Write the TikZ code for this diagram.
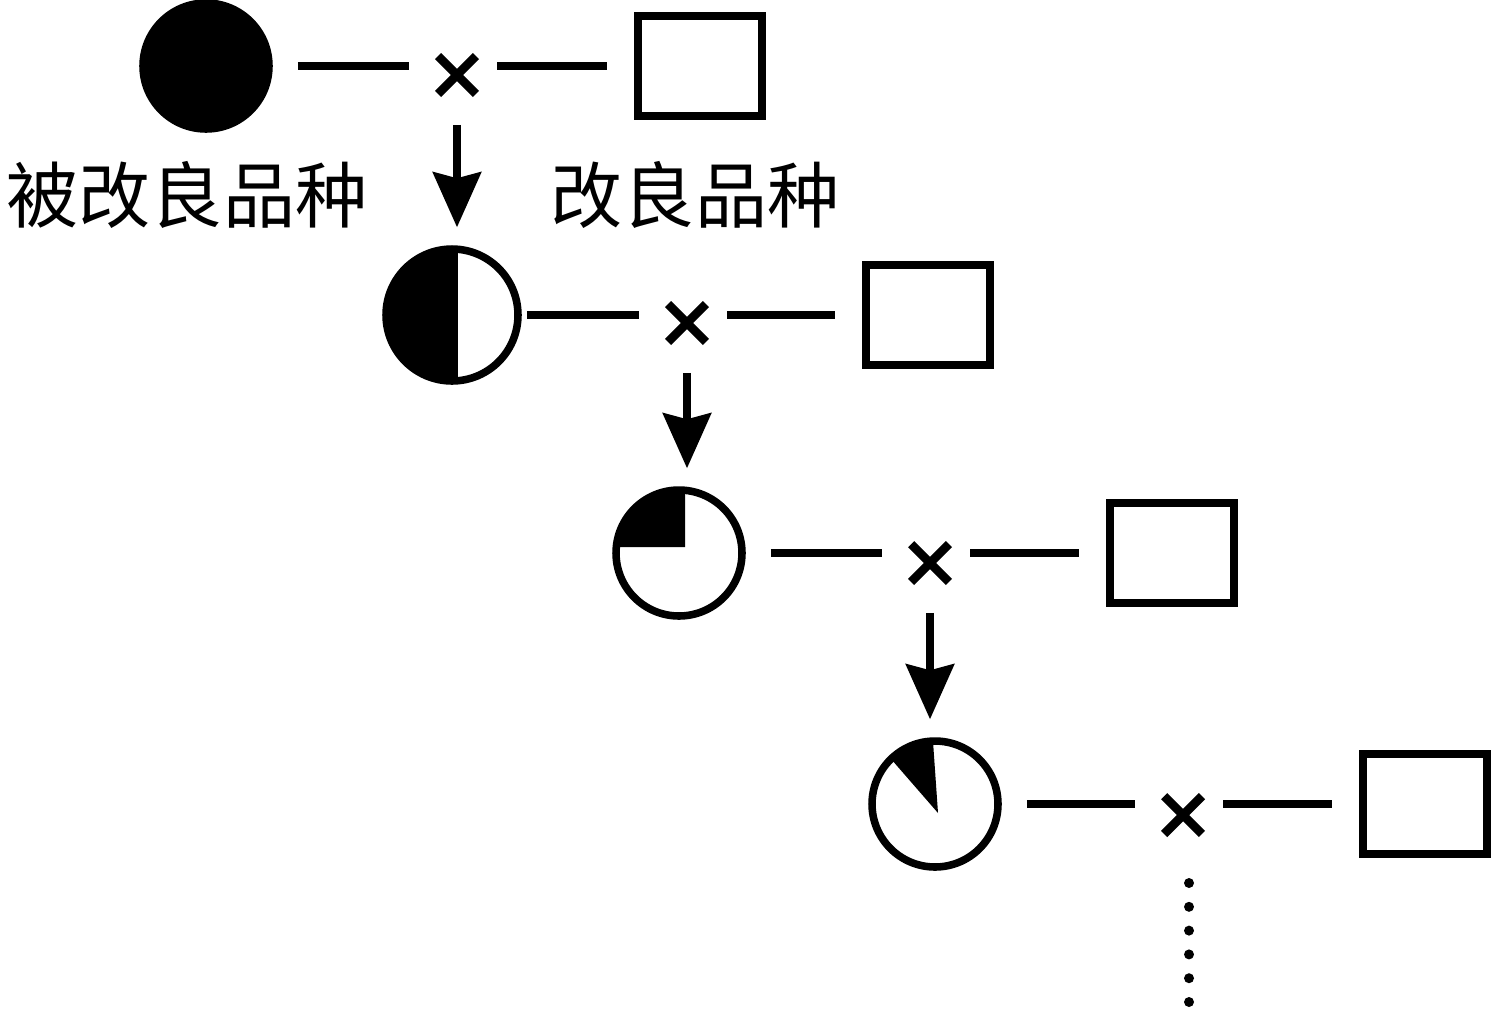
\documentclass[tikz,border=0pt]{standalone}
\usepackage{fontspec}
\newfontfamily\cjk{Noto Sans CJK SC}
\usetikzlibrary{arrows.meta,shapes.misc}

\begin{document}
\begin{tikzpicture}[x=0.02cm, y=-0.02cm, line width=4.3pt,
  plant/.style={circle, draw, minimum size=2.52cm, inner sep=0pt},
  parent/.style={rectangle, draw, minimum width=2.48cm, minimum height=2cm, inner sep=0pt},
  cross/.style={cross out, draw, minimum size=0.58cm, inner sep=0pt, line width=5pt},
  link/.style={shorten <=0.5cm, shorten >=0.96cm},
  link2/.style={shorten <=0.8cm, shorten >=0.54cm},
  down/.style={-{Stealth[length=1.1cm, width=0.96cm, inset=0.12cm]}, shorten <=0.62cm, shorten >=0.36cm},
  label/.style={font=\cjk\fontsize{41}{41}\selectfont, inner sep=0pt}]
\useasboundingbox (0,0) rectangle (1493,1009);

% first cross
\node[plant, fill] (c1) at (206,66) {};
\node[cross] (x1) at (457,75) {};
\node[parent] (s1) at (700,66) {};
\draw[link] (c1) -- (c1 -| x1);
\draw[link2] (c1 -| x1) -- (s1);
\node[label] (l1) at (187,195) {被改良品种};
\node[label] (l2) at (695,195) {改良品种};

% second cross
\node[plant, minimum size=2.64cm, path picture={
  \fill ([xshift=0.12cm]path picture bounding box.north) rectangle (path picture bounding box.south west);}]
  (c2) at (452,315) {};
\node[cross] (x2) at (687,323) {};
\node[parent] (s2) at (928,315) {};
\draw[link, shorten <=0.1cm] (c2) -- (c2 -| x2);
\draw[link2] (c2 -| x2) -- (s2);
\draw[down] (x1) -- (x1 |- c2.north);

% third cross
\node[plant, path picture={
  \fill ([shift={(0.12cm,0.12cm)}]path picture bounding box.center) -- +(90:2cm) -- +(135:2.5cm) -- +(180:2cm) -- cycle;}]
  (c3) at (679,553) {};
\node[cross] (x3) at (930,563) {};
\node[parent] (s3) at (1172,553) {};
\draw[link] (c3) -- (c3 -| x3);
\draw[link2] (c3 -| x3) -- (s3);
\draw[down] (x2) -- (x2 |- c3.north);

% fourth cross
\node[plant, path picture={
  \fill ([shift={(0.06cm,-0.18cm)}]path picture bounding box.center) -- +(94:2cm) -- +(131:2cm) -- cycle;}]
  (c4) at (935,804) {};
\node[cross] (x4) at (1183,815) {};
\node[parent] (s4) at (1425,804) {};
\draw[link] (c4) -- (c4 -| x4);
\draw[link2] (c4 -| x4) -- (s4);
\draw[down] (x3) -- (x3 |- c4.north);

\foreach \k in {0,...,5}
  \fill (1189,{883+23.8*\k}) circle[radius=0.1cm];
\end{tikzpicture}
\end{document}
